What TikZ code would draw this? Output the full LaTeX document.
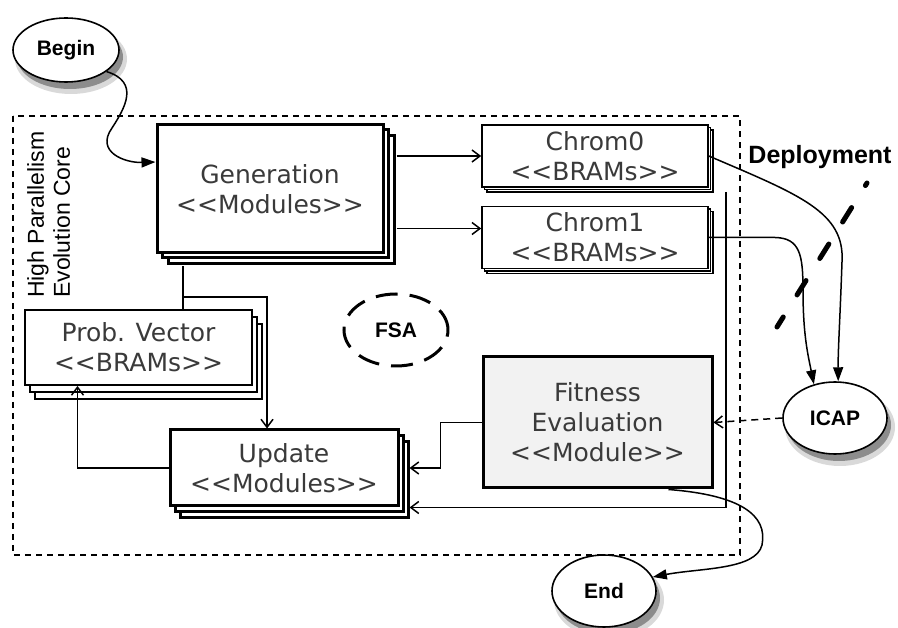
\documentclass[tikz,border=0pt]{standalone}
\usepackage{fontspec}
\setmainfont{DejaVu Sans}
\newfontfamily\helv{Liberation Sans}
\usetikzlibrary{arrows.meta,shapes.geometric}
\definecolor{txtgray}{HTML}{3A3A3A}
\definecolor{fitgray}{HTML}{F2F2F2}

\tikzset{
  boxtext/.style={font=\fontsize{25}{30}\selectfont, text=txtgray, align=center},
  thickbox/.style={boxtext, draw, fill=white, line width=3pt, inner sep=2pt},
  thinbox/.style={boxtext, draw, fill=white, line width=1.6pt, inner sep=1pt},
  oval/.style={ellipse, draw, fill=white, line width=1.6pt,
    font=\helv\bfseries\fontsize{21}{24}\selectfont,
    minimum width=104pt, minimum height=72pt},
  halo/.style={ellipse, draw=none, inner sep=0pt},
  conn/.style={line width=1.5pt},
  arr/.style={conn, -{Straight Barb[length=8pt,width=12pt]}},
  arrf/.style={conn, -{Triangle[length=14pt,width=10pt]}},
}

\begin{document}
\begin{tikzpicture}[x=1pt, y=-1pt]
    \useasboundingbox (0,0) rectangle (898,628);
    % evolution core frame
    \draw[dash pattern=on 6pt off 5pt, line width=1.4pt, fill=white]
        (13,116) rectangle (740,555);
    \node[rotate=90, anchor=north west, inner sep=0pt, align=left,
        font=\helv\fontsize{23}{26}\selectfont] (core) at (27,298)
        {High Parallelism\\Evolution Core};

    % generation
    \foreach \d in {11,5}
        \node[thickbox, minimum width=226pt, minimum height=128pt] at (270+\d,189+\d) {};
    \node[thickbox, minimum width=226pt, minimum height=128pt] (gen) at (270,189)
        {Generation\\<{}<Modules>{}>};

    % chromosomes
    \foreach \d in {5,2.5} {
        \node[thinbox, minimum width=226pt, minimum height=62pt] at (595+\d,156+\d) {};
        \node[thinbox, minimum width=226pt, minimum height=62pt] at (595+\d,237.5+\d) {};
    }
    \node[thinbox, minimum width=226pt, minimum height=62pt] (chrom0) at (595,156)
        {Chrom0\\<{}<BRAMs>{}>};
    \node[thinbox, minimum width=226pt, minimum height=62pt] (chrom1) at (595,237.5)
        {Chrom1\\<{}<BRAMs>{}>};

    % probability vector
    \foreach \dx/\dy in {10/14,5/7}
        \node[thinbox, line width=1.9pt, minimum width=227pt, minimum height=75pt] at (138.5+\dx,347.5+\dy) {};
    \node[thinbox, line width=1.9pt, minimum width=227pt, minimum height=75pt] (probv) at (138.5,347.5)
        {Prob. Vector\\<{}<BRAMs>{}>};

    % update
    \foreach \dx/\dy in {10/12,5/6}
        \node[thickbox, minimum width=228pt, minimum height=76pt] at (284+\dx,468+\dy) {};
    \node[thickbox, minimum width=228pt, minimum height=76pt] (upd) at (284,468)
        {Update\\<{}<Modules>{}>};

    % fitness
    \node[thickbox, fill=fitgray, minimum width=229pt, minimum height=131pt] (fit) at (597.5,422.5)
        {Fitness\\Evaluation\\<{}<Module>{}>};

    % shadows under the states
    \foreach \cx/\cy/\w/\h in {66/50/106/64, 835/418/104/72, 604/591/104/72} {
        \node[halo, fill=black!15, minimum width=\w pt+6pt, minimum height=\h pt+6pt] at (\cx+5,\cy+9) {};
        \node[halo, fill=black!45, minimum width=\w pt, minimum height=\h pt] at (\cx+4,\cy+7) {};
    }

    % states
    \node[oval, minimum width=106pt, minimum height=64pt] (begin) at (66,50) {Begin};
    \node[oval, dash pattern=on 22pt off 12pt, line width=3pt] (fsa) at (396,330) {FSA};
    \node[oval] (icap) at (835,418) {ICAP};
    \node[oval] (end) at (604,591) {End};

    % deployment border
    \node[font=\helv\bfseries\fontsize{25}{28}\selectfont] (deploy) at (820,157) {Deployment};
    \draw[line width=5pt, dash pattern=on 17pt off 26pt, dash phase=14pt, line cap=round]
        (867,183) -- (777,327);

    % connectors
    \coordinate (genout) at ([xshift=12pt]gen.east);
    \coordinate (genfoot) at ([yshift=-12pt]gen.south);
    \coordinate (c1in) at ([yshift=9pt]chrom1.west);
    \coordinate (junc) at (183,297);
    \draw[arrf] (begin.-28) .. controls (140,82) and (125,108) .. (112,128)
        .. controls (95,152) and (125,163) .. ([yshift=27pt]gen.west);
    \draw[arr] (genout |- chrom0.west) -- (chrom0.west);
    \draw[arr] (genout |- c1in) -- (c1in);
    \draw[conn] (junc |- genfoot) -- (junc |- probv.north);
    \draw[arr] (junc) -| ([xshift=-17pt]upd.north);
    \draw[arr] (upd.west) -| ([xshift=-61pt]probv.south);
    \draw[arr] (fit.west) -- ++(-41,0) |- ([xshift=10pt]upd.east);
    \draw[arr] ([xshift=17pt,yshift=-4pt]chrom0.south east) |- ([xshift=10pt]upd.south east);
    \draw[arrf] (chrom0.east) .. controls (800,195) and (845,212) .. (842,262)
        .. controls (840,320) and (838,350) .. (icap.85);
    \draw[arrf] (chrom1.east) -- (775,237.5) .. controls (800,238) and (803,255) .. (803,290)
        .. controls (803,335) and (808,355) .. (icap.122);
    \draw[arr, dash pattern=on 7pt off 5pt] (icap.west) -- (fit.east);
    \draw[arrf] ([xshift=-45pt]fit.south east) .. controls (740,495) and (768,515) .. (762,545)
        .. controls (756,570) and (700,568) .. (end.16);
\end{tikzpicture}
\end{document}
